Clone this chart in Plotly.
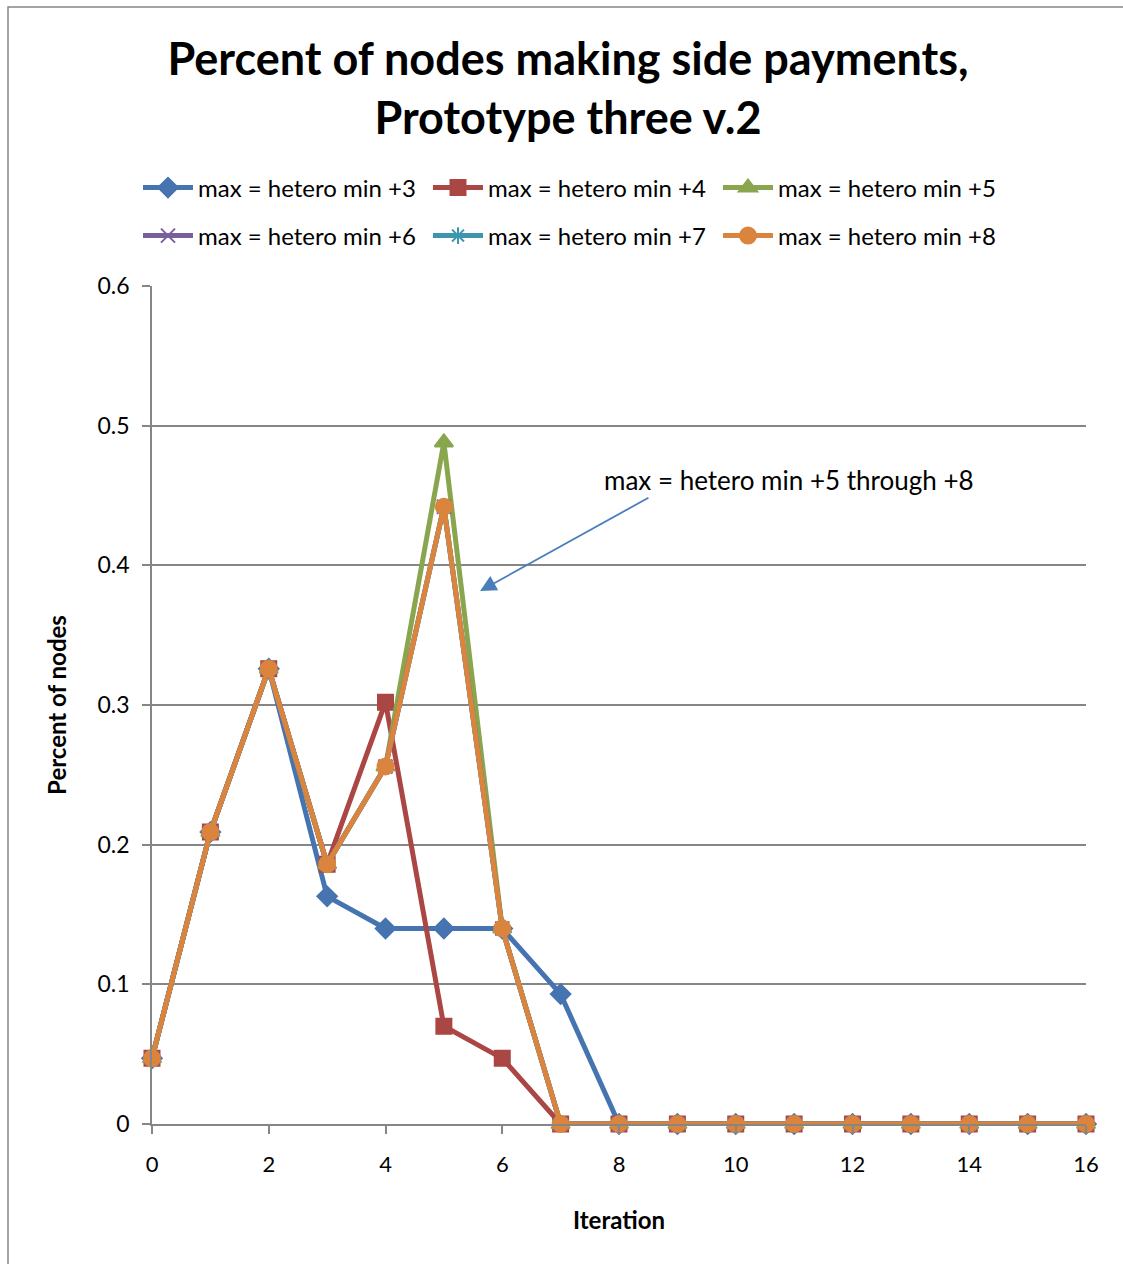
import plotly.graph_objects as go

iterations = list(range(0, 17))
names = ["max = hetero min +3", "max = hetero min +4", "max = hetero min +5",
         "max = hetero min +6", "max = hetero min +7", "max = hetero min +8"]
s3 = [0.047, 0.209, 0.326, 0.163, 0.140, 0.140, 0.140, 0.093, 0, 0, 0, 0, 0, 0, 0, 0, 0]
s4 = [0.047, 0.209, 0.326, 0.186, 0.302, 0.070, 0.047, 0, 0, 0, 0, 0, 0, 0, 0, 0, 0]
s5 = [0.047, 0.209, 0.326, 0.186, 0.256, 0.488, 0.140, 0, 0, 0, 0, 0, 0, 0, 0, 0, 0]
s6 = [0.047, 0.209, 0.326, 0.186, 0.256, 0.442, 0.140, 0, 0, 0, 0, 0, 0, 0, 0, 0, 0]
s7 = [0.047, 0.209, 0.326, 0.186, 0.256, 0.442, 0.140, 0, 0, 0, 0, 0, 0, 0, 0, 0, 0]
s8 = [0.047, 0.209, 0.326, 0.186, 0.256, 0.442, 0.140, 0, 0, 0, 0, 0, 0, 0, 0, 0, 0]
series = [s3, s4, s5, s6, s7, s8]
colors = ["#4674B0", "#AA4643", "#89A54E", "#7A5E9C", "#3D96AE", "#DB843D"]
symbols = ["diamond", "square", "triangle-up", "x-thin-open", "asterisk-open", "circle"]
msizes = [15, 15, 16, 14, 14, 16]
annotation_text = "max = hetero min +5 through +8"

FONT = "Lato"
fig = go.Figure()
for i, (nm, ys) in enumerate(zip(names, series)):
    fig.add_trace(go.Scatter(
        x=iterations, y=ys, name=nm, mode="lines+markers",
        line=dict(color=colors[i], width=5),
        marker=dict(symbol=symbols[i], size=msizes[i], color=colors[i],
                    line=dict(color=colors[i], width=2)),
        cliponaxis=False,
        legend="legend" if i < 3 else "legend2",
    ))

legend_common = dict(orientation="h", xref="container", yref="container",
                     xanchor="left", yanchor="middle", font=dict(family=FONT, size=24, color="#000"),
                     itemwidth=50, entrywidth=225, bgcolor="rgba(0,0,0,0)", traceorder="normal")

fig.update_layout(
    width=1123, height=1264,
    paper_bgcolor="white", plot_bgcolor="white",
    margin=dict(l=152, r=37, t=286, b=140),
    font=dict(family=FONT, size=22, color="#000"),
    title=dict(text="<b>Percent of nodes making side payments,<br>Prototype three v.2</b>",
               x=568 / 1123, xanchor="center", xref="container",
               y=1 - 75 / 1264, yanchor="middle", yref="container",
               font=dict(family=FONT, size=45, color="#000")),
    legend=dict(x=138 / 1123, y=1 - 188 / 1264, **legend_common),
    legend2=dict(x=138 / 1123, y=1 - 236 / 1264, **legend_common),
    showlegend=True,
    xaxis=dict(range=[0, 16], tickmode="linear", tick0=0, dtick=2,
               showgrid=False, zeroline=False, showline=True, linecolor="#868686", linewidth=1.5,
               ticks="outside", ticklen=8, tickcolor="#868686", tickwidth=1.5,
               tickfont=dict(family=FONT, size=22), ticklabelstandoff=12,
               title=dict(text="<b>Iteration</b>", font=dict(family=FONT, size=24), standoff=36)),
    yaxis=dict(range=[0, 0.6], tickmode="linear", tick0=0, dtick=0.1,
               showgrid=True, gridcolor="#868686", gridwidth=1.5, zeroline=False,
               showline=True, linecolor="#868686", linewidth=1.5,
               ticks="outside", ticklen=8, tickcolor="#868686", tickwidth=1.5,
               tickfont=dict(family=FONT, size=23), ticklabelstandoff=8,
               title=dict(text="<b>Percent of nodes</b>", font=dict(family=FONT, size=24), standoff=24)),
)

# outer chart border
fig.add_shape(type="rect", xref="paper", yref="paper",
              x0=(8 - 152) / 934, x1=(1130 - 152) / 934,
              y0=(1124 - 1270) / 838, y1=(1124 - 7) / 838,
              line=dict(color="#868686", width=1.5), layer="below")

fig.add_annotation(x=10.91, y=0.461, xref="x", yref="y", text=annotation_text,
                   showarrow=False, xanchor="center", yanchor="middle",
                   font=dict(family=FONT, size=26, color="#000"))
fig.add_annotation(x=5.62, y=0.3816, ax=8.53, ay=0.449, xref="x", yref="y",
                   axref="x", ayref="y", text="", showarrow=True,
                   arrowhead=2, arrowsize=1.8, arrowwidth=1.8, arrowcolor="#4A7EBB")

fig.write_html("out.html")
